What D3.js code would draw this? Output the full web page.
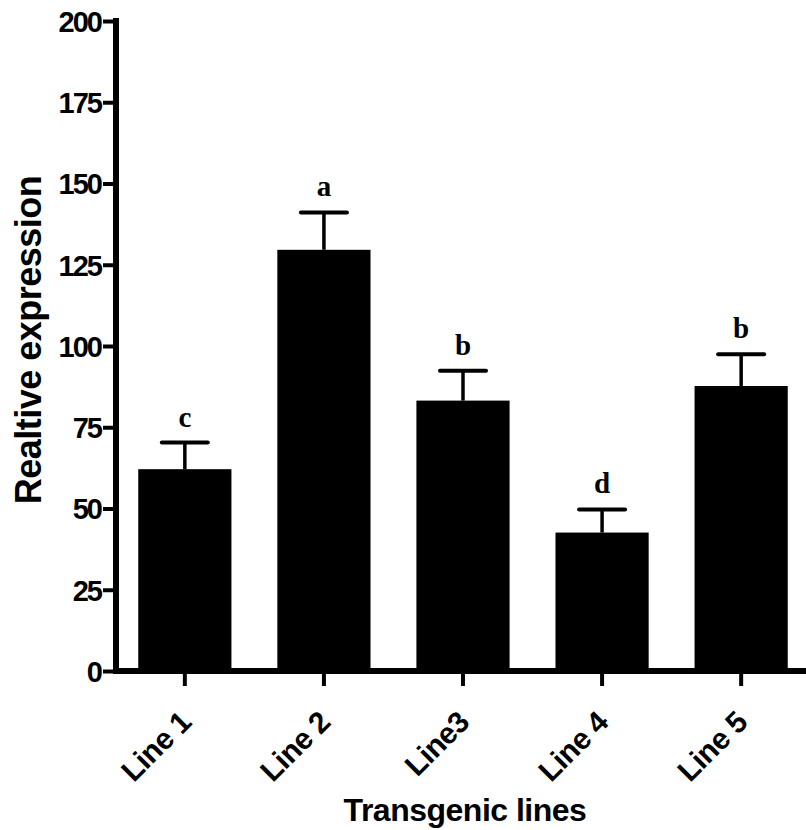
<!DOCTYPE html>
<html>
<head>
<meta charset="utf-8">
<script src="https://cdn.jsdelivr.net/npm/d3@7"></script>
<style>
  body { margin: 0; background: #fff; }
  text { font-family: "Liberation Sans", Arial, sans-serif; font-weight: bold; fill: #000; }
  .letter { font-family: "Liberation Serif", "Times New Roman", serif; }
</style>
</head>
<body>
<div id="chart"></div>
<script>

// data
var lines = ["Line 1", "Line 2", "Line3", "Line 4", "Line 5"];
var expression = [62.1, 129.6, 83.2, 42.6, 87.7];
var sem = [8.2, 11.5, 9.2, 7.1, 9.8];
var groups = ["c", "a", "b", "d", "b"];
var yTicks = [0, 25, 50, 75, 100, 125, 150, 175, 200];

var svgWidth = 806;
var svgHeight = 830;

var svg = d3.select("#chart")
  .append("svg")
  .attr("width", svgWidth)
  .attr("height", svgHeight);

// scales
var xScale = d3.scaleBand()
  .domain(lines)
  .range([116, 810])
  .paddingInner(0.33)
  .paddingOuter(0.16);

var yScale = d3.scaleLinear()
  .domain([0, 200])
  .range([671, 21]);

var data = lines.map(function (d, i) {
  return { line: d, value: expression[i], err: sem[i], group: groups[i] };
});

// bars
svg.selectAll("rect.bar")
  .data(data)
  .enter()
  .append("rect")
  .attr("class", "bar")
  .attr("x", d => xScale(d.line))
  .attr("y", d => yScale(d.value))
  .attr("width", xScale.bandwidth())
  .attr("height", d => yScale(0) - yScale(d.value))
  .attr("fill", "#000");

// error bars (upper only)
var errGroup = svg.append("g");
errGroup.selectAll("line.stem")
  .data(data)
  .enter()
  .append("line")
  .attr("x1", d => xScale(d.line) + xScale.bandwidth() / 2)
  .attr("x2", d => xScale(d.line) + xScale.bandwidth() / 2)
  .attr("y1", d => yScale(d.value))
  .attr("y2", d => yScale(d.value + d.err))
  .attr("stroke", "#000")
  .attr("stroke-width", 3.5);

errGroup.selectAll("line.cap")
  .data(data)
  .enter()
  .append("line")
  .attr("x1", d => xScale(d.line) + xScale.bandwidth() / 2 - 23)
  .attr("x2", d => xScale(d.line) + xScale.bandwidth() / 2 + 23)
  .attr("y1", d => yScale(d.value + d.err))
  .attr("y2", d => yScale(d.value + d.err))
  .attr("stroke", "#000")
  .attr("stroke-width", 4)
  .attr("stroke-linecap", "round");

// significance letters
svg.selectAll("text.letter")
  .data(data)
  .enter()
  .append("text")
  .attr("class", "letter")
  .attr("x", d => xScale(d.line) + xScale.bandwidth() / 2)
  .attr("y", d => yScale(d.value + d.err) - 16)
  .attr("text-anchor", "middle")
  .style("font-size", "29px")
  .text(d => d.group);

// y axis
var leftAxis = d3.axisLeft(yScale)
  .tickValues(yTicks)
  .tickSize(13)
  .tickSizeOuter(0)
  .tickPadding(2);

var yAxis = svg.append("g")
  .attr("transform", "translate(116, 0)")
  .call(leftAxis);

yAxis.select(".domain")
  .attr("stroke-width", 6)
  .attr("d", "M0,674V18");
yAxis.selectAll(".tick line").attr("stroke-width", 4);
yAxis.selectAll(".tick text")
  .attr("font-size", null)
  .attr("font-family", null)
  .style("font-size", "29px")
  .style("letter-spacing", "-2px")
  .attr("dy", "0.36em");

// x axis
var bottomAxis = d3.axisBottom(xScale)
  .tickSize(15)
  .tickSizeOuter(0)
  .tickFormat("");

var xAxis = svg.append("g")
  .attr("transform", "translate(0, 671)")
  .call(bottomAxis);

xAxis.select(".domain")
  .attr("stroke-width", 6)
  .attr("d", "M113,0H806");
xAxis.selectAll(".tick line").attr("stroke-width", 4);

// rotated category labels
svg.selectAll("text.xlabel")
  .data(lines)
  .enter()
  .append("text")
  .attr("class", "xlabel")
  .attr("text-anchor", "end")
  .attr("transform", d => `translate(${xScale(d) + xScale.bandwidth() / 2 + 8}, 724) rotate(-45)`)
  .style("font-size", "30px")
  .style("letter-spacing", "-0.5px")
  .text(d => d);

// axis titles
svg.append("text")
  .attr("transform", "translate(41, 340) rotate(-90)")
  .attr("text-anchor", "middle")
  .style("font-size", "36px")
  .style("letter-spacing", "-0.5px")
  .text("Realtive expression");

svg.append("text")
  .attr("x", 465)
  .attr("y", 821)
  .attr("text-anchor", "middle")
  .style("font-size", "32px")
  .style("letter-spacing", "-0.5px")
  .text("Transgenic lines");

</script>
</body>
</html>
